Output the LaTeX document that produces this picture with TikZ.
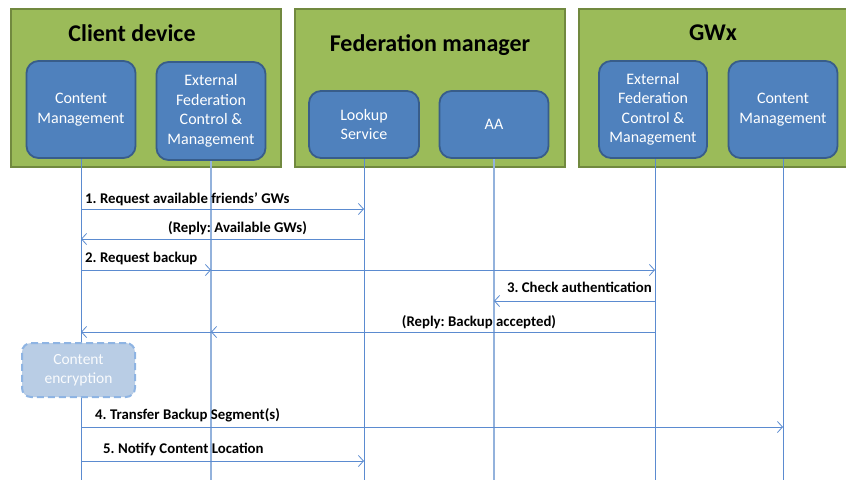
\documentclass[tikz,border=0pt]{standalone}
\usepackage{fontspec}
\setmainfont{Carlito}
\usetikzlibrary{arrows.meta}
\frenchspacing
\definecolor{grnfill}{HTML}{9BBB59}
\definecolor{grnline}{HTML}{71893F}
\definecolor{bluefill}{HTML}{4F81BD}
\definecolor{blueline}{HTML}{385D8A}
\definecolor{lifeblue}{HTML}{5B8BD0}
\definecolor{lightlife}{HTML}{93B2DC}
\definecolor{encfill}{HTML}{B9CDE5}
\definecolor{encline}{HTML}{8EB4E3}
\tikzset{
  group/.style={draw=grnline, fill=grnfill, line width=2pt, minimum width=#1, inner sep=0pt, minimum height=158pt},
  comp/.style={draw=blueline, fill=bluefill, line width=1.8pt, rounded corners=12pt, text=white, align=center, font=\fontsize{16}{19.5}\selectfont, inner sep=0pt},
  gtitle/.style={font=\fontsize{24}{28}\selectfont\bfseries},
  life/.style={draw=lifeblue, line width=0.9pt},
  lifel/.style={draw=lightlife, line width=1.3pt},
  msg/.style={draw=lifeblue, line width=0.9pt, -{Straight Barb[length=5pt,width=11pt,line width=0.8pt]}},
  lbl/.style={font=\fontsize{14.8}{17}\selectfont\bfseries, inner sep=0pt},
  enc/.style={draw=encline, fill=encfill, line width=2pt, dash pattern=on 7pt off 4pt, rounded corners=9pt, text=white!92!encfill, align=center, font=\fontsize{15.5}{19}\selectfont, minimum width=113pt, minimum height=54pt, inner sep=0pt}
}
\begin{document}
\begin{tikzpicture}[x=1pt,y=-1pt]
\useasboundingbox (0,0) rectangle (846,480);
\begin{scope}
\clip (0,0) rectangle (846,480);
% groups
\node[group=270pt] (gcd) at (146,88) {};
\node[group=270pt] (gfm) at (430,88) {};
\node[group=290pt] (ggw) at (724,88) {};
\end{scope}
\node[gtitle] (tcd) at (132,33) {Client device};
\node[gtitle] (tfm) at (430,45) {Federation manager};
\node[gtitle] (tgw) at (713,33) {GWx};
% components
\node[comp, minimum width=109pt, minimum height=97pt] (cm1) at (81,109.5) {Content\\Management};
\node[comp, minimum width=109pt, minimum height=98pt] (ef1) at (211,111) {External\\Federation\\Control \&\\Management};
\node[comp, minimum width=110pt, minimum height=67pt] (ls) at (364,124.5) {Lookup\\Service};
\node[comp, minimum width=109pt, minimum height=67pt] (aa) at (494,124.5) {AA};
\node[comp, minimum width=108pt, minimum height=97pt] (ef2) at (653,109.5) {External\\Federation\\Control \&\\Management};
\node[comp, minimum width=109pt, minimum height=97pt] (cm2) at (783,109.5) {Content\\Management};
% lifeline ends
\coordinate (b1) at (81,480);
\coordinate (b2) at (211,480);
\coordinate (b3) at (364,480);
\coordinate (b4) at (494,480);
\coordinate (b5) at (655,480);
\coordinate (b6) at (783,480);
\draw[life] (cm1.south) -- (b1);
\draw[lifel] (ef1.south) -- (b2);
\draw[life] (ls.south) -- (b3);
\draw[lifel] (aa.south) -- (b4);
\draw[life] (b5 |- ef2.south) -- (b5);
\draw[life] (cm2.south) -- (b6);
% encryption box
\node[enc] (enc) at (78.5,370) {Content\\encryption};
% messages
\draw[msg] (b1 |- 0,209) -- (b3 |- 0,209);
\node[lbl, anchor=west] (l1) at (85,199) {1. Request available friends’ GWs};
\draw[msg] (b3 |- 0,239) -- (b1 |- 0,239);
\node[lbl] (l1r) at (237.5,228) {(Reply: Available GWs)};
\draw[msg] (b1 |- 0,270) -- (b2 |- 0,270);
\draw[msg] (b2 |- 0,270) -- (b5 |- 0,270);
\node[lbl, anchor=west] (l2) at (85,258) {2. Request backup};
\draw[msg] (b5 |- 0,301) -- (b4 |- 0,301);
\node[lbl, anchor=east] (l3) at (652,287) {3. Check authentication};
\draw[msg] (b5 |- 0,332) -- (b2 |- 0,332);
\draw[msg] (b2 |- 0,332) -- (b1 |- 0,332);
\node[lbl] (l3r) at (479,322) {(Reply: Backup accepted)};
\draw[msg] (b1 |- 0,427) -- (b6 |- 0,427);
\node[lbl, anchor=west] (l4) at (95,415) {4. Transfer Backup Segment(s)};
\draw[msg] (b1 |- 0,461) -- (b3 |- 0,461);
\node[lbl, anchor=west] (l5) at (103,449) {5. Notify Content Location};
\end{tikzpicture}
\end{document}
